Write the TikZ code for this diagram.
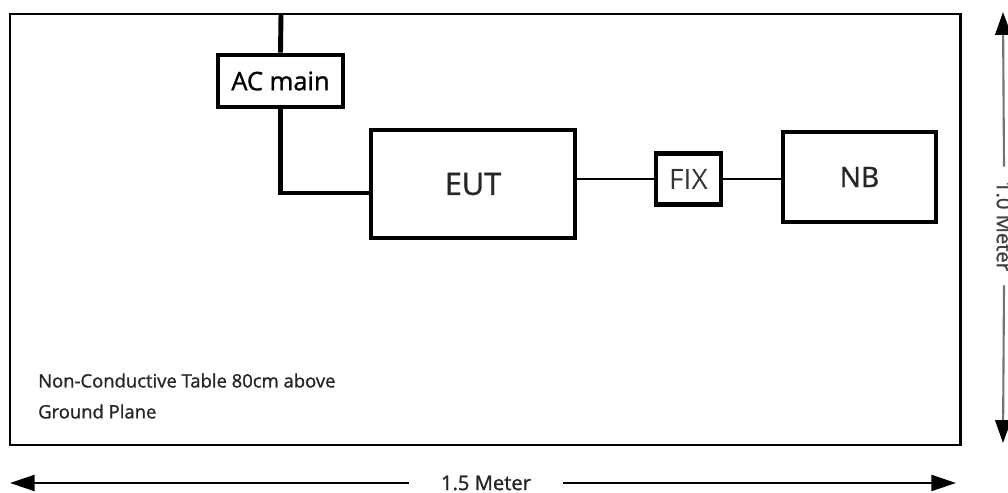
\documentclass[tikz,border=0pt]{standalone}
\usepackage{fontspec}
\setmainfont{Open Sans}
\newfontfamily\semibold{Open Sans}[BoldFont={Open Sans}, BoldFeatures={FakeBold=1.2}]
\usetikzlibrary{arrows.meta}

\tikzset{
  unitbox/.style={draw, line width=2pt, inner sep=0pt, font=\semibold\bfseries\fontsize{16}{18}\selectfont},
  wire/.style={line width=1.7pt},
  dimline/.style={line width=1.6pt, -{Triangle[length=14pt,width=9pt]}},
}

\begin{document}
\begin{tikzpicture}[x=0.02cm, y=-0.02cm]
\useasboundingbox (0,0) rectangle (1008,493);
\clip (0,0) rectangle (1008,493);
% table
\draw[line width=1.7pt] (10,14) rectangle (960,445);
\node[anchor=west, align=left, text=black!85, font=\semibold\bfseries\fontsize{10.5}{17.6}\selectfont] (tablelabel) at (32,396) {Non-Conductive Table 80cm above\\Ground Plane};
% units
\node[unitbox, line width=2.8pt, minimum width=2.5cm, minimum height=1.04cm, font=\semibold\bfseries\fontsize{14.5}{16}\selectfont] (acmain) at (280.5,81) {AC main};
\node[unitbox, minimum width=4.08cm, minimum height=2.16cm, font=\semibold\bfseries\fontsize{17.5}{20}\selectfont, text=black!85] (eut) at (473,184) {EUT};
\node[unitbox, line width=2.3pt, minimum width=1.3cm, minimum height=1.02cm, text=black!80, font=\fontsize{16}{18}\selectfont] (fix) at (688.5,179) {FIX};
\node[unitbox, line width=2.3pt, minimum width=3.06cm, minimum height=1.8cm, text=black!85] (nb) at (859.5,177) {NB};
\coordinate (feed) at (281,14);
% cables
\draw[wire, line width=2.8pt] (feed) -- (acmain.north);
\draw[wire, line width=2.8pt] (acmain.south) |- ([yshift=-0.18cm]eut.west);
\draw[wire] (eut.east |- fix.west) -- (fix.west);
\draw[wire] (fix.east) -- (fix.east -| nb.west);
% dimensions
\node[minimum width=3.08cm, font=\semibold\bfseries\fontsize{11.5}{13}\selectfont, text=black!85] (width) at (486,483) {1.5 Meter};
\draw[dimline] (width.west) -- (10,483);
\draw[dimline] (width.east) -- (956,483);
\node[rotate=-90, minimum width=2.36cm, font=\semibold\bfseries\fontsize{11.5}{13}\selectfont, text=black!75] (depth) at (1004,226) {1.0 Meter};
\draw[dimline, line width=1.2pt, black!55, -{Triangle[length=13pt,width=9pt,color=black]}] (depth.west) -- (1003,12);
\draw[dimline, line width=1.2pt, black!55, -{Triangle[length=13pt,width=9pt,color=black]}] (depth.east) -- (1003,443);
\end{tikzpicture}
\end{document}
